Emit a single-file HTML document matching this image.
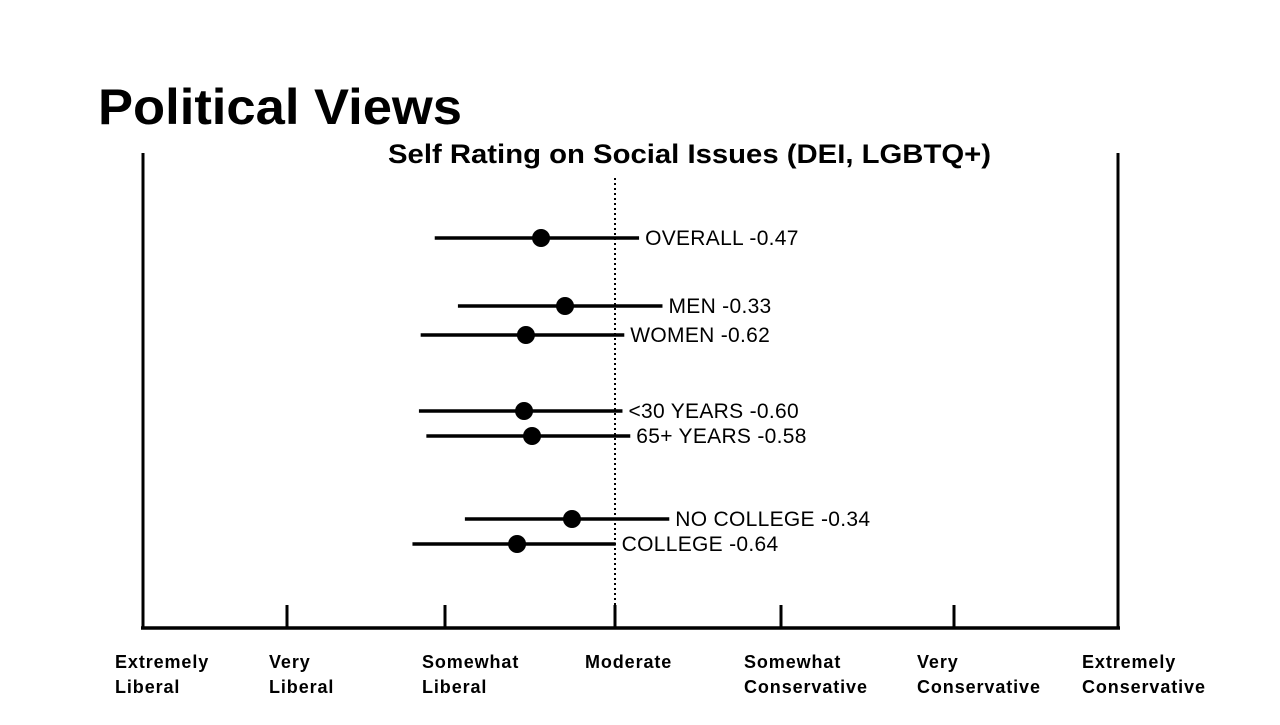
<!DOCTYPE html>
<html><head><meta charset="utf-8"><style>
body{margin:0;width:1280px;height:720px;background:#fff;overflow:hidden;font-family:"Liberation Sans",Arial,sans-serif}
</style></head><body>
<svg width="1280" height="720" font-family="Liberation Sans, Arial, sans-serif">
<text x="98" y="124" font-size="50" font-weight="bold" textLength="364" lengthAdjust="spacingAndGlyphs">Political Views</text>
<text x="388" y="163" font-size="27" font-weight="bold" textLength="603" lengthAdjust="spacingAndGlyphs">Self Rating on Social Issues (DEI, LGBTQ+)</text>
<g id="axis"></g>
<g id="marks"></g>
</svg>
<script>
const categories=["OVERALL","MEN","WOMEN","<30 YEARS","65+ YEARS","NO COLLEGE","COLLEGE"];
const values=[-0.47,-0.33,-0.62,-0.60,-0.58,-0.34,-0.64];
const plotted=[-0.435,-0.294,-0.524,-0.535,-0.488,-0.253,-0.576];
const errLow=[0.63,0.63,0.63,0.63,0.63,0.63,0.63];
const errHigh=[0.58,0.58,0.58,0.58,0.58,0.58,0.58];
const rowY=[238,306,335,411,436,519,544];
const tickValues=[-3,-2,-1,0,1,2,3];
const tickLabels=[["Extremely","Liberal"],["Very","Liberal"],["Somewhat","Liberal"],["Moderate",""],["Somewhat","Conservative"],["Very","Conservative"],["Extremely","Conservative"]];
const tickPx=[143,287,445,615,781,954,1118];
const NS="http://www.w3.org/2000/svg";
function x(v){
  const i=Math.max(0,Math.min(5,Math.floor(v+3)));
  return tickPx[i]+(v+3-i)*(tickPx[i+1]-tickPx[i]);
}
function mk(tag,attrs,parent){const e=document.createElementNS(NS,tag);for(const k in attrs)e.setAttribute(k,attrs[k]);parent.appendChild(e);return e;}
const ax=document.getElementById('axis');
const base=628;
let l=mk('line',{x1:x(-3)-2,x2:x(3)+2,y1:base,y2:base,stroke:'#000','stroke-width':3.5},ax);


let d=mk('line',{x1:x(0),x2:x(0),y1:178,y2:base,stroke:'#000','stroke-width':2,'stroke-dasharray':'2,3'},ax);


tickValues.forEach((t,i)=>{
  const end=(i==0||i==6);
  const tk=mk('line',{x1:x(t),x2:x(t),y1:end?153:605,y2:base,stroke:'#000','stroke-width':3},ax);
  
  
  const off=[-28,-18,-23,-30,-37,-37,-36][i];
  const tx=mk('text',{x:x(t)+off,y:668,'font-size':18,'font-weight':'bold','letter-spacing':0.9},ax);
  
  
  const a=mk('tspan',{x:x(t)+off},tx);a.textContent=tickLabels[i][0];
  const b=mk('tspan',{x:x(t)+off,dy:25},tx);b.textContent=tickLabels[i][1];
});
const mg=document.getElementById('marks');
categories.forEach((c,i)=>{
  const v=plotted[i],y=rowY[i];
  const x1=x(v-errLow[i]),x2=x(v+errHigh[i]);
  const ln=mk('line',{x1:x1,x2:x2,y1:y,y2:y,stroke:'#000','stroke-width':3.5},mg);
  
  
  const pt=mk('circle',{cx:x(v),cy:y,r:9,fill:'#000'},mg);
  
  
  const t=mk('text',{x:x2+6,y:y+7,'font-size':21,'letter-spacing':0.3},mg);
  
  
  t.textContent=c+' '+values[i].toFixed(2);
});
</script>
</body></html>
